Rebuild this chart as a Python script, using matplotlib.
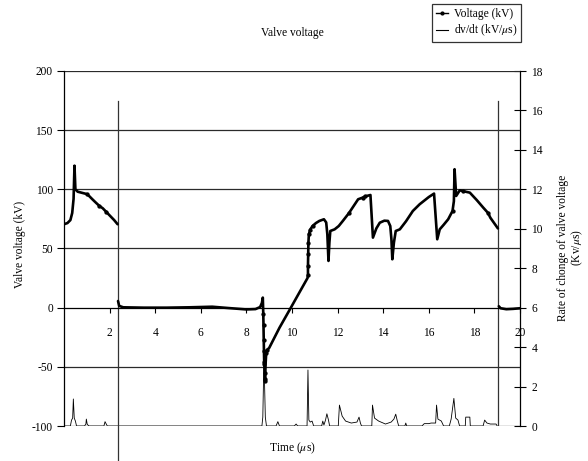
import numpy as np
import matplotlib
matplotlib.use("Agg")
import matplotlib.pyplot as plt
from matplotlib.lines import Line2D

plt.rcParams['font.family'] = ['Liberation Serif', 'DejaVu Serif']
plt.rcParams['mathtext.fontset'] = 'stix'
plt.rcParams['axes.unicode_minus'] = False
plt.rcParams['font.size'] = 8.3

# valve voltage (kV), three pieces split at the switching instants
t_v1 = [0.0, 0.15, 0.28, 0.36, 0.42, 0.46, 0.50, 0.60, 0.80, 1.00, 1.10, 1.25, 1.40, 1.55, 1.70, 1.85, 2.00, 2.20, 2.35]
v1 = [70.5, 71.5, 74, 80, 92, 120, 100, 98, 97, 96, 94.4, 91.5, 88.7, 86, 84, 81, 78, 74, 70.5]

t_v2 = [2.37, 2.42, 2.6, 3.5, 4.5, 5.5, 6.5, 7.2, 8.0, 8.4, 8.6, 8.68, 8.72,
        8.74, 8.75, 8.76, 8.77, 8.78, 8.79, 8.80, 8.81, 8.82, 8.84, 8.87, 8.92,
        9.0, 9.45, 9.95, 10.3, 10.68, 10.7, 10.7, 10.71, 10.72, 10.74, 10.8, 10.9,
        11.05, 11.2, 11.4, 11.5, 11.55, 11.6, 11.64, 11.68, 11.87, 12.05, 12.23,
        12.5, 12.9, 13.1, 13.2, 13.44, 13.55, 13.7, 13.85, 14.05, 14.21, 14.31,
        14.36, 14.4, 14.47, 14.55, 14.73, 15.0, 15.3, 15.6, 16.0, 16.23, 16.37,
        16.48, 16.65, 16.85, 17.04, 17.1, 17.13, 17.2, 17.36, 17.5, 17.8, 18.1,
        18.39, 18.6, 18.7, 19.03]
v2 = [5.6, 1.5, 0.3, 0.0, 0.0, 0.3, 0.8, -0.3, -1.5, -1.2, 0.5, 4, 8.5,
      -5, -15, -27, -37, -46, -48, -55, -60, -62, -48, -38, -35.5,
      -34, -17, 0, 12, 25, 28, 35, 45, 55, 62, 66, 69,
      71.5, 73.3, 74.7, 72, 62, 39.5, 55, 64.8, 66.2, 69, 73.3,
      80, 91.6, 93, 94, 95.2, 59.2, 67, 71.8, 73.5, 73.3, 69,
      58, 40.9, 55, 64.8, 66.2, 73, 81.7, 87.4, 93.5, 96.4, 57.8,
      66.2, 70, 74.7, 81.7, 90, 117, 94.4, 99.2, 98.5, 97.2, 91,
      84.5, 80, 76, 67]

t_v3 = [19.07, 19.15, 19.4, 19.7, 20.0]
v3 = [1.2, -0.5, -1.3, -1.0, -0.5]

# data points drawn with a dot on the voltage trace
marks_v1 = [9, 13, 15]
marks_v2 = [13, 14, 15, 16, 17, 18, 19, 20, 21, 23, 24, 30, 31, 32, 33, 34, 35, 36, 48, 50, 51, 73, 78, 82]

# rate of change dv/dt (kV/us)
t_r = [0.0, 0.28, 0.33, 0.38, 0.41, 0.45, 0.50, 0.55, 0.90, 0.96, 0.98, 1.02, 1.10,
       1.75, 1.80, 1.83, 1.90, 8.68, 8.72, 8.77, 8.83, 8.88, 9.30, 9.38, 9.45,
       10.10, 10.18, 10.25, 10.66, 10.70, 10.74, 10.80, 10.88, 10.95, 11.30, 11.35,
       11.40, 11.47, 11.53, 11.60, 11.65, 12.03, 12.08, 12.20, 12.35, 12.60, 12.85,
       12.94, 13.00, 13.05, 13.50, 13.53, 13.62, 13.80, 14.10, 14.35, 14.47, 14.55,
       14.62, 14.68, 14.95, 14.99, 15.03, 15.70, 15.80, 16.00, 16.10, 16.30, 16.34,
       16.40, 16.55, 16.65, 16.90, 16.98, 17.10, 17.18, 17.28, 17.35, 17.60, 17.62,
       17.80, 17.82, 18.38, 18.45, 18.55, 18.70, 18.95, 19.00]
r = [0, 0, 0.3, 0.4, 1.37, 0.4, 0.25, 0, 0, 0.1, 0.35, 0.08, 0,
     0, 0.22, 0.15, 0, 0, 0.45, 3.5, 0.45, 0, 0, 0.22, 0,
     0, 0.1, 0, 0, 2.84, 0.3, 0.2, 0.25, 0, 0, 0.25,
     0.05, 0.3, 0.62, 0.3, 0, 0, 1.06, 0.5, 0.25, 0.15, 0.2,
     0.45, 0.15, 0, 0, 1.06, 0.4, 0.25, 0.1, 0.2, 0.35, 0.6,
     0.25, 0, 0, 0.15, 0, 0, 0.12, 0.12, 0.15, 0.15, 1.06,
     0.35, 0.25, 0, 0, 0.35, 1.4, 0.4, 0.3, 0, 0, 0.45,
     0.45, 0, 0, 0.3, 0.15, 0.1, 0.1, 0]

switch_times = [2.36, 19.05]

fig = plt.figure(figsize=(5.88, 4.61), dpi=100)
ax = fig.add_axes([64 / 588, 1 - 426 / 461, 456 / 588, 355 / 461])
ax2 = ax.twinx()

ax.set_xlim(0, 20)
ax.set_ylim(-100, 200)
ax2.set_ylim(0, 18)

# horizontal grid
for yv in [200, 150, 100, 50, -50, -100]:
    ax.axhline(yv, color='#2a2a2a', lw=0.9, zorder=1)

# switching instants
ax.plot([switch_times[0]] * 2, [175, -130], color='#333333', lw=0.9, clip_on=False, zorder=1)
ax.plot([switch_times[1]] * 2, [175, -100], color='#333333', lw=0.9, zorder=1)

# dv/dt trace on the right axis
ax2.plot(t_r, r, color='black', lw=0.6, zorder=2)

# voltage trace
vkw = dict(color='black', lw=1.9, marker='o', markersize=2.1, solid_capstyle='round', zorder=3)
ax.plot(t_v1, v1, markevery=marks_v1, **vkw)
ax.plot(t_v2, v2, markevery=marks_v2, **vkw)
ax.plot(t_v3, v3, markevery=[], **vkw)
ax.set_zorder(ax2.get_zorder() + 1)
ax.patch.set_visible(False)

for s in ['top', 'right']:
    ax.spines[s].set_visible(False)
for s in ['top', 'left', 'bottom']:
    ax2.spines[s].set_visible(False)
ax.spines['bottom'].set_position(('data', 0))
ax.spines['bottom'].set_linewidth(0.9)
ax.spines['left'].set_linewidth(0.9)
ax2.spines['right'].set_linewidth(0.9)

ax.set_xticks(np.arange(2, 21, 2))
ax.tick_params(axis='x', direction='out', length=3.3, width=0.8, pad=10.5)
ax.set_yticks([-100, -50, 0, 50, 100, 150, 200])
ax.tick_params(axis='y', direction='out', length=5, width=0.8, pad=3)
ax2.set_yticks(np.arange(0, 19, 2))
ax2.tick_params(axis='y', direction='inout', length=8.5, width=0.8, pad=4)

fig.text(292 / 588, 1 - 33 / 461, "Valve voltage", ha='center', va='center')
fig.text(292 / 588, 1 - 448 / 461, r"Time ($\mu$s)", ha='center', va='center')
fig.text(20 / 588, 1 - 244 / 461, "Valve voltage (kV)", ha='center', va='center', rotation=90)
fig.text(571 / 588, 1 - 248 / 461, "Rate of chonge of valve voltage\n(Kv/$\\mu$s)",
         ha='center', va='center', rotation=90, multialignment='center', linespacing=1.0)

handles = [Line2D([], [], color='black', lw=1.0, marker='o', markersize=2.0),
           Line2D([], [], color='black', lw=0.8)]
leg = fig.legend(handles, ["Voltage (kV)", r"dv/dt (kV/$\mu$s)"],
                 loc='upper right', bbox_to_anchor=(521 / 588, 1 - 4 / 461),
                 frameon=True, fancybox=False, handlelength=1.0, handletextpad=0.5,
                 borderpad=0.35, labelspacing=0.25, borderaxespad=0)
leg.get_frame().set_edgecolor('black')
leg.get_frame().set_linewidth(0.9)

fig.savefig("out.png", dpi=100)
